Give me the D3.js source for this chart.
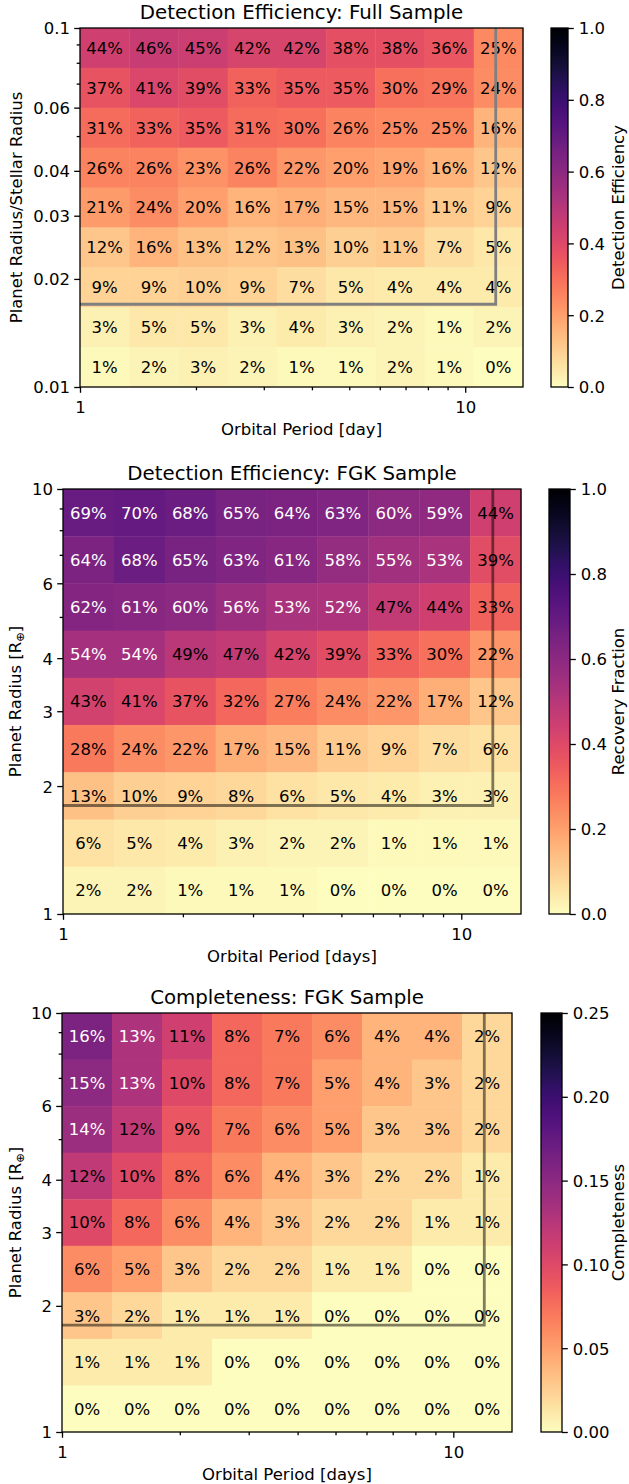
<!DOCTYPE html>
<html>
<head>
<meta charset="utf-8">
<script src="https://cdn.jsdelivr.net/npm/d3@7"></script>
<style>
  html, body { margin: 0; padding: 0; background: #fff; }
  svg { display: block; font-family: "DejaVu Sans", sans-serif; }
</style>
</head>
<body>
<svg id="fig" width="629" height="1484"></svg>
<script>
// Detection efficiency, full sample (fraction, rows from largest radius ratio down)
const fullEfficiency = [
  [0.44, 0.46, 0.45, 0.42, 0.42, 0.38, 0.38, 0.36, 0.25],
  [0.37, 0.41, 0.39, 0.33, 0.35, 0.35, 0.30, 0.29, 0.24],
  [0.31, 0.33, 0.35, 0.31, 0.30, 0.26, 0.25, 0.25, 0.16],
  [0.26, 0.26, 0.23, 0.26, 0.22, 0.20, 0.19, 0.16, 0.12],
  [0.21, 0.24, 0.20, 0.16, 0.17, 0.15, 0.15, 0.11, 0.09],
  [0.12, 0.16, 0.13, 0.12, 0.13, 0.10, 0.11, 0.07, 0.05],
  [0.09, 0.09, 0.10, 0.09, 0.07, 0.05, 0.04, 0.04, 0.04],
  [0.03, 0.05, 0.05, 0.03, 0.04, 0.03, 0.02, 0.01, 0.02],
  [0.01, 0.02, 0.03, 0.02, 0.01, 0.01, 0.02, 0.01, 0.00]
];

// Detection efficiency, FGK sample (rows from 10 R_earth down to 1 R_earth)
const fgkEfficiency = [
  [0.69, 0.70, 0.68, 0.65, 0.64, 0.63, 0.60, 0.59, 0.44],
  [0.64, 0.68, 0.65, 0.63, 0.61, 0.58, 0.55, 0.53, 0.39],
  [0.62, 0.61, 0.60, 0.56, 0.53, 0.52, 0.47, 0.44, 0.33],
  [0.54, 0.54, 0.49, 0.47, 0.42, 0.39, 0.33, 0.30, 0.22],
  [0.43, 0.41, 0.37, 0.32, 0.27, 0.24, 0.22, 0.17, 0.12],
  [0.28, 0.24, 0.22, 0.17, 0.15, 0.11, 0.09, 0.07, 0.06],
  [0.13, 0.10, 0.09, 0.08, 0.06, 0.05, 0.04, 0.03, 0.03],
  [0.06, 0.05, 0.04, 0.03, 0.02, 0.02, 0.01, 0.01, 0.01],
  [0.02, 0.02, 0.01, 0.01, 0.01, 0.00, 0.00, 0.00, 0.00]
];

// Completeness, FGK sample
const fgkCompleteness = [
  [0.16, 0.13, 0.11, 0.08, 0.07, 0.06, 0.04, 0.04, 0.02],
  [0.15, 0.13, 0.10, 0.08, 0.07, 0.05, 0.04, 0.03, 0.02],
  [0.14, 0.12, 0.09, 0.07, 0.06, 0.05, 0.03, 0.03, 0.02],
  [0.12, 0.10, 0.08, 0.06, 0.04, 0.03, 0.02, 0.02, 0.01],
  [0.10, 0.08, 0.06, 0.04, 0.03, 0.02, 0.02, 0.01, 0.01],
  [0.06, 0.05, 0.03, 0.02, 0.02, 0.01, 0.01, 0.00, 0.00],
  [0.03, 0.02, 0.01, 0.01, 0.01, 0.00, 0.00, 0.00, 0.00],
  [0.01, 0.01, 0.01, 0.00, 0.00, 0.00, 0.00, 0.00, 0.00],
  [0.00, 0.00, 0.00, 0.00, 0.00, 0.00, 0.00, 0.00, 0.00]
];

// Axis ranges and tick labels
const periodRange = [1, 14.125];
const periodTickLabels = [1, 10];
const periodMinorTicks = [2, 3, 4, 5, 6, 7, 8, 9];
const ratioRange = [0.01, 0.1];
const ratioTickLabels = [0.01, 0.02, 0.03, 0.04, 0.06, 0.1];
const ratioMinorTicks = [0.05, 0.07, 0.08, 0.09];
const radiusRange = [1, 10];
const radiusTickLabels = [1, 2, 3, 4, 6, 10];
const radiusMinorTicks = [5, 7, 8, 9];
const effCbarTicks = [0.0, 0.2, 0.4, 0.6, 0.8, 1.0];
const compCbarTicks = [0.00, 0.05, 0.10, 0.15, 0.20, 0.25];

// Selection box corners: period cut and minimum size
const periodCut = 12;
const ratioCut = 0.017;
const radiusCut = 1.8;

const FS = 16.5, TITLE_FS = 19.8;
const MAJOR = 5.8, MINOR = 3.3, LW = 1.3;
const svg = d3.select("#fig");
const defs = svg.append("defs");
const nBins = 9;

function logEdges(lo, hi, n) {
  const a = Math.log10(lo), b = Math.log10(hi);
  return d3.range(n + 1).map(i => Math.pow(10, a + (b - a) * i / n));
}

function drawPanel(cfg) {
  const { id, left, right, top, bottom, cbLeft, cbRight } = cfg;
  const g = svg.append("g");
  const x = d3.scaleLog().domain(periodRange).range([left, right]);
  const y = d3.scaleLog().domain(cfg.yRange).range([bottom, top]);
  const color = v => d3.interpolateMagma(1 - Math.min(1, v / cfg.vmax));

  const xe = logEdges(periodRange[0], periodRange[1], nBins);
  const ye = logEdges(cfg.yRange[0], cfg.yRange[1], nBins);

  const cells = [];
  cfg.values.forEach((row, r) => row.forEach((v, c) => {
    const ri = nBins - 1 - r; // row 0 is the top bin
    cells.push({ v, x0: xe[c], x1: xe[c + 1], y0: ye[ri], y1: ye[ri + 1] });
  }));

  g.selectAll("rect.cell").data(cells).join("rect")
    .attr("x", d => x(d.x0))
    .attr("y", d => y(d.y1))
    .attr("width", d => x(d.x1) - x(d.x0) + 0.4)
    .attr("height", d => y(d.y0) - y(d.y1) + 0.4)
    .attr("fill", d => color(d.v));

  g.selectAll("text.cell").data(cells).join("text")
    .attr("x", d => (x(d.x0) + x(d.x1)) / 2)
    .attr("y", d => (y(d.y0) + y(d.y1)) / 2)
    .attr("dy", "0.36em")
    .attr("text-anchor", "middle")
    .attr("font-size", FS)
    .attr("fill", d => d.v / cfg.vmax > 0.5 ? "#ffffff" : "#000000")
    .text(d => Math.round(d.v * 100) + "%");

  // selection box (right and lower edges)
  g.append("path")
    .attr("d", `M${x(periodRange[0])},${y(cfg.yCut)}H${x(periodCut)}V${y(cfg.yRange[1])}`)
    .attr("fill", "none")
    .attr("stroke", cfg.boxColor)
    .attr("stroke-opacity", cfg.boxOpacity)
    .attr("stroke-width", 2.8);

  // frame
  g.append("rect")
    .attr("x", left).attr("y", top)
    .attr("width", right - left).attr("height", bottom - top)
    .attr("fill", "none").attr("stroke", "#000").attr("stroke-width", LW);

  // x axis
  const xAxis = g.append("g").attr("transform", `translate(0,${bottom})`);
  xAxis.call(d3.axisBottom(x).tickValues(periodTickLabels).tickFormat(d3.format("d"))
    .tickSize(MAJOR).tickPadding(4.5));
  xAxis.append("g").call(d3.axisBottom(x).tickValues(periodMinorTicks).tickFormat("").tickSize(MINOR));
  xAxis.selectAll(".domain").remove();
  xAxis.selectAll("line").attr("stroke", "#000").attr("stroke-width", LW);
  xAxis.selectAll("text").attr("font-size", FS).attr("fill", "#000")
    .attr("font-family", "DejaVu Sans").attr("y", 25.5).attr("dy", 0);

  // y axis
  const yAxis = g.append("g").attr("transform", `translate(${left},0)`);
  yAxis.call(d3.axisLeft(y).tickValues(cfg.yTicks).tickFormat(d => String(d))
    .tickSize(MAJOR).tickPadding(4.5));
  yAxis.append("g").call(d3.axisLeft(y).tickValues(cfg.yMinor).tickFormat("").tickSize(MINOR));
  yAxis.selectAll(".domain").remove();
  yAxis.selectAll("line").attr("stroke", "#000").attr("stroke-width", LW);
  yAxis.selectAll("text").attr("font-size", FS).attr("fill", "#000")
    .attr("font-family", "DejaVu Sans").attr("dy", "0.36em").attr("x", -10);

  // title and axis labels
  g.append("text")
    .attr("x", (left + right) / 2).attr("y", top - 9.5)
    .attr("text-anchor", "middle").attr("font-size", TITLE_FS)
    .text(cfg.title);

  g.append("text")
    .attr("x", (left + right) / 2).attr("y", bottom + 48)
    .attr("text-anchor", "middle").attr("font-size", FS)
    .text(cfg.xLabel);

  const yl = g.append("text")
    .attr("transform", `translate(${cfg.yLabelX},${(top + bottom) / 2}) rotate(-90)`)
    .attr("text-anchor", "middle").attr("font-size", FS);
  if (cfg.earthUnit) {
    yl.append("tspan").text("Planet Radius [R");
    yl.append("tspan").attr("font-size", 11.5).attr("dy", 3).text("\u2295");
    yl.append("tspan").attr("dy", -3).text("]");
  } else {
    yl.text(cfg.yLabel);
  }

  // colorbar
  const gradId = "grad-" + id;
  const grad = defs.append("linearGradient").attr("id", gradId)
    .attr("x1", 0).attr("y1", 1).attr("x2", 0).attr("y2", 0);
  d3.range(0, 1.0001, 0.02).forEach(t => {
    grad.append("stop").attr("offset", t).attr("stop-color", d3.interpolateMagma(1 - t));
  });
  g.append("rect")
    .attr("x", cbLeft).attr("y", top)
    .attr("width", cbRight - cbLeft).attr("height", bottom - top)
    .attr("fill", `url(#${gradId})`)
    .attr("stroke", "#000").attr("stroke-width", LW);

  const cbScale = d3.scaleLinear().domain([0, cfg.vmax]).range([bottom, top]);
  const cbAxis = g.append("g").attr("transform", `translate(${cbRight},0)`);
  cbAxis.call(d3.axisRight(cbScale).tickValues(cfg.cbTicks).tickFormat(d3.format(cfg.cbFormat))
    .tickSize(MAJOR).tickPadding(5));
  cbAxis.selectAll(".domain").remove();
  cbAxis.selectAll("line").attr("stroke", "#000").attr("stroke-width", LW);
  cbAxis.selectAll("text").attr("font-size", FS).attr("fill", "#000")
    .attr("font-family", "DejaVu Sans").attr("dy", "0.36em");

  g.append("text")
    .attr("transform", `translate(${cfg.cbLabelX},${(top + bottom) / 2}) rotate(-90)`)
    .attr("text-anchor", "middle").attr("font-size", FS)
    .text(cfg.cbLabel);
}

drawPanel({
  id: "full", left: 80, right: 523, top: 28, bottom: 387, cbLeft: 551, cbRight: 568,
  values: fullEfficiency, vmax: 1.0,
  yRange: ratioRange, yTicks: ratioTickLabels, yMinor: ratioMinorTicks, yCut: ratioCut,
  title: "Detection Efficiency: Full Sample",
  xLabel: "Orbital Period [day]", yLabel: "Planet Radius/Stellar Radius", yLabelX: 22,
  cbTicks: effCbarTicks, cbFormat: ".1f", cbLabel: "Detection Efficiency", cbLabelX: 624,
  boxColor: "#808080", boxOpacity: 1
});

drawPanel({
  id: "fgk", left: 63, right: 521, top: 489, bottom: 914, cbLeft: 549, cbRight: 570,
  values: fgkEfficiency, vmax: 1.0,
  yRange: radiusRange, yTicks: radiusTickLabels, yMinor: radiusMinorTicks, yCut: radiusCut,
  title: "Detection Efficiency: FGK Sample",
  xLabel: "Orbital Period [days]", earthUnit: true, yLabelX: 21,
  cbTicks: effCbarTicks, cbFormat: ".1f", cbLabel: "Recovery Fraction", cbLabelX: 624,
  boxColor: "#000000", boxOpacity: 0.5
});

drawPanel({
  id: "comp", left: 62, right: 512, top: 1013, bottom: 1432, cbLeft: 541, cbRight: 562,
  values: fgkCompleteness, vmax: 0.25,
  yRange: radiusRange, yTicks: radiusTickLabels, yMinor: radiusMinorTicks, yCut: radiusCut,
  title: "Completeness: FGK Sample",
  xLabel: "Orbital Period [days]", earthUnit: true, yLabelX: 21,
  cbTicks: compCbarTicks, cbFormat: ".2f", cbLabel: "Completeness", cbLabelX: 624,
  boxColor: "#000000", boxOpacity: 0.5
});
</script>
</body>
</html>
